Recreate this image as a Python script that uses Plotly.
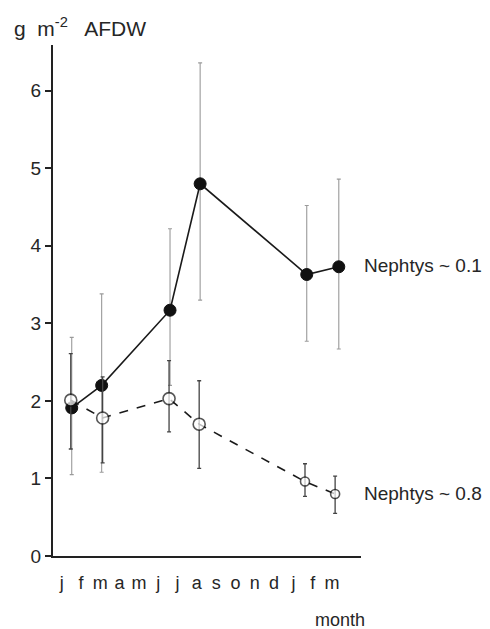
import plotly.graph_objects as go

# Month positions (index along the j f m a m j j a s o n d j f m axis)
month_labels = ["j", "f", "m", "a", "m", "j", "j", "a", "s", "o", "n", "d", "j", "f", "m"]

# Nephtys ~ 0.1 (filled circles)
x_high = [0.52, 2.07, 5.61, 7.17, 12.69, 14.35]
y_high = [1.91, 2.20, 3.17, 4.80, 3.63, 3.73]
high_upper = [2.82, 3.38, 4.22, 6.36, 4.52, 4.86]
high_lower = [1.05, 1.08, 2.20, 3.30, 2.77, 2.67]

# Nephtys ~ 0.8 (open circles)
x_low = [0.47, 2.12, 5.56, 7.12, 12.60, 14.16]
y_low = [2.01, 1.78, 2.03, 1.70, 0.96, 0.80]
low_upper = [2.61, 2.31, 2.52, 2.26, 1.19, 1.03]
low_lower = [1.38, 1.20, 1.60, 1.13, 0.77, 0.55]

y_ticks = [0, 1, 2, 3, 4, 5, 6]

FONT = "Liberation Sans"
TXT = "#262626"

fig = go.Figure()

fig.add_trace(go.Scatter(
    x=x_high, y=y_high, mode="lines+markers",
    line=dict(color="#1a1a1a", width=1.6),
    marker=dict(symbol="circle", size=12, color="#111111",
                line=dict(color="#111111", width=1)),
    error_y=dict(type="data", symmetric=False,
                 array=[u - v for u, v in zip(high_upper, y_high)],
                 arrayminus=[v - l for v, l in zip(y_high, high_lower)],
                 color="#9a9a9a", thickness=1.1, width=2),
    showlegend=False,
))

fig.add_trace(go.Scatter(
    x=x_low, y=y_low, mode="lines+markers",
    line=dict(color="#1a1a1a", width=1.6, dash="dash"),
    marker=dict(symbol="circle", size=[12, 12, 12, 12, 9, 9], color="white",
                line=dict(color="#111111", width=1.6)),
    error_y=dict(type="data", symmetric=False,
                 array=[u - v for u, v in zip(low_upper, y_low)],
                 arrayminus=[v - l for v, l in zip(y_low, low_lower)],
                 color="#444444", thickness=1.3, width=2),
    showlegend=False,
))

# page body has an 8px margin, so the figure is sized 482x621
fig.update_layout(
    width=482, height=621,
    margin=dict(l=45, r=129, t=37, b=73),
    paper_bgcolor="white", plot_bgcolor="white",
    font=dict(family=FONT, color=TXT),
    xaxis=dict(
        range=[-0.45, 15.5], showgrid=False, zeroline=False,
        showline=True, linecolor="#222222", linewidth=2,
        tickmode="array", tickvals=list(range(len(month_labels))),
        ticktext=month_labels, ticks="",
        tickfont=dict(family=FONT, size=18, color=TXT),
        ticklabelstandoff=9,
    ),
    yaxis=dict(
        range=[0, 6.59], showgrid=False, zeroline=False,
        showline=True, linecolor="#222222", linewidth=2,
        tickmode="array", tickvals=y_ticks,
        ticktext=[str(t) for t in y_ticks],
        ticks="outside", ticklen=6, tickwidth=1.5, tickcolor="#222222",
        tickfont=dict(family=FONT, size=19, color=TXT),
    ),
    annotations=[
        dict(text="g  m<sup>-2</sup>   AFDW", xref="paper", yref="paper",
             x=-0.133, y=1.035, xanchor="left", yanchor="middle",
             showarrow=False, font=dict(family=FONT, size=21, color=TXT)),
        dict(text="month", xref="paper", yref="paper",
             x=0.844, y=-0.125, xanchor="left", yanchor="middle",
             showarrow=False, font=dict(family=FONT, size=18, color=TXT)),
        dict(text="Nephtys ~ 0.1", xref="paper", yref="paper",
             x=1.003, y=0.569, xanchor="left", yanchor="middle",
             showarrow=False, font=dict(family=FONT, size=19, color=TXT)),
        dict(text="Nephtys ~ 0.8", xref="paper", yref="paper",
             x=1.003, y=0.123, xanchor="left", yanchor="middle",
             showarrow=False, font=dict(family=FONT, size=19, color=TXT)),
    ],
)

fig.write_html("out.html")
